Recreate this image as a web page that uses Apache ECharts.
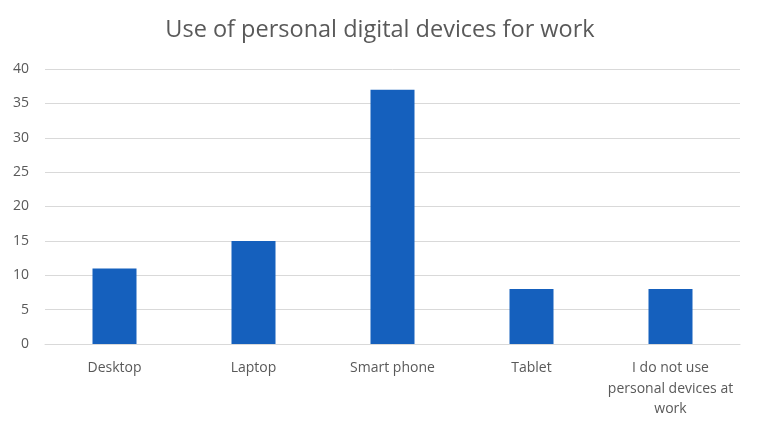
<!DOCTYPE html>
<html>
<head>
<meta charset="utf-8">
<script src="https://cdn.jsdelivr.net/npm/echarts@6/dist/echarts.min.js"></script>
<style>
  html, body { margin: 0; padding: 0; background: #fff; }
  #main { width: 760px; height: 430px; }
</style>
</head>
<body>
<div id="main"></div>
<script>
const categories = ['Desktop', 'Laptop', 'Smart phone', 'Tablet', 'I do not use\npersonal devices at\nwork']
const counts = [11, 15, 37, 8, 8]
const yTicks = { min: 0, max: 40, step: 5 }

var myChart = echarts.init(document.getElementById('main'))
var font = '"Open Sans", "Noto Sans", sans-serif'

myChart.setOption({
  animation: false,
  title: {
    text: 'Use of personal digital devices for work',
    left: 'center',
    top: 13,
    textStyle: { fontFamily: font, fontSize: 23.5, fontWeight: 'normal', color: '#595959' }
  },
  grid: { left: 45, right: 20, top: 69, bottom: 86 },
  xAxis: {
    type: 'category',
    data: categories,
    axisLine: { lineStyle: { color: '#d9d9d9', width: 1 } },
    axisTick: { show: false },
    axisLabel: {
      interval: 0,
      margin: 14,
      color: '#595959',
      fontFamily: font,
      fontSize: 14,
      lineHeight: 20.5
    }
  },
  yAxis: {
    type: 'value',
    min: yTicks.min,
    max: yTicks.max,
    interval: yTicks.step,
    axisLine: { show: false },
    axisTick: { show: false },
    axisLabel: { color: '#595959', fontFamily: font, fontSize: 14, margin: 16 },
    splitLine: { lineStyle: { color: '#d9d9d9', width: 1 } }
  },
  series: [
    {
      type: 'bar',
      data: counts,
      barWidth: 44,
      itemStyle: { color: '#1560bd' }
    }
  ]
})
</script>
</body>
</html>
